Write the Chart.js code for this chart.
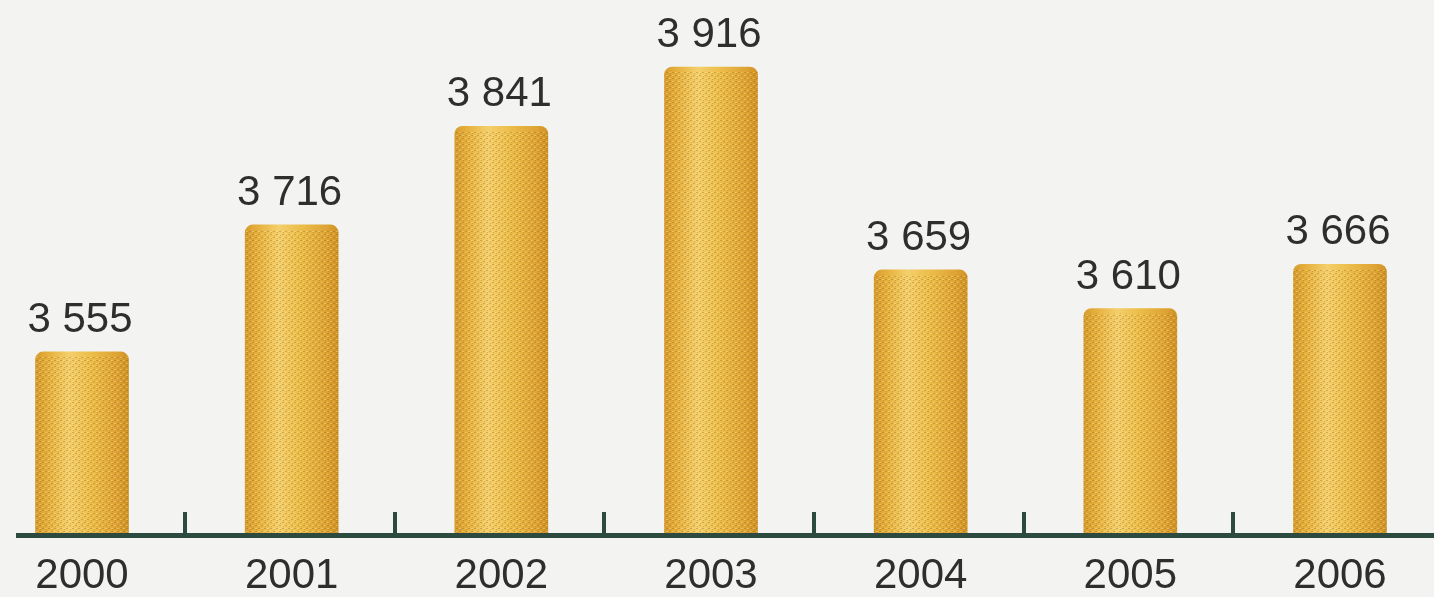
<!DOCTYPE html>
<html>
<head>
<meta charset="utf-8">
<script src="https://cdn.jsdelivr.net/npm/chart.js@4/dist/chart.umd.min.js"></script>
<style>
  html, body { margin: 0; padding: 0; background: #f3f3f1; overflow: hidden; }
  #frame { width: 1434px; height: 597px; overflow: hidden; }
  #wrap { width: 1434px; height: 617px; position: relative; }
</style>
</head>
<body>
<div id="frame"><div id="wrap"><canvas id="c"></canvas></div></div>
<script>
// Annual totals, 2000–2006
const years = ['2000', '2001', '2002', '2003', '2004', '2005', '2006'];
const totals = [3555, 3716, 3841, 3916, 3659, 3610, 3666];
const yRange = [3323, 4001];

// "3 555" style with a space as thousands separator
const fmt = v => String(v).replace(/\B(?=(\d{3})+(?!\d))/g, ' ');

const FONT = '"Liberation Sans", Arial, sans-serif';
const INK = '#2e2e2e';
const AXIS = '#2c4a3f';
const BAR_W = 93;

// golden column shading, built per bar from the x scale
function barFill(ctx) {
  const chart = ctx.chart;
  const xs = chart.scales.x;
  if (!xs || !chart.chartArea || ctx.dataIndex === undefined) return '#e6b445';
  const cx = xs.getPixelForValue(ctx.dataIndex);
  const half = BAR_W / 2;
  const g = chart.ctx.createLinearGradient(cx - half, 0, cx + half, 0);
  g.addColorStop(0.00, '#d69c2e');
  g.addColorStop(0.14, '#e6b13e');
  g.addColorStop(0.36, '#f4cf6c');
  g.addColorStop(0.60, '#ecbd4a');
  g.addColorStop(0.88, '#dea334');
  g.addColorStop(1.00, '#cf9226');
  return g;
}

// coarse speckled grain laid over the columns
function grainPattern(ctx) {
  const p = document.createElement('canvas');
  p.width = 6; p.height = 6;
  const c = p.getContext('2d');
  c.fillStyle = 'rgba(140,85,10,0.30)';
  c.fillRect(0, 0, 2, 1);
  c.fillRect(3, 3, 2, 1);
  c.fillRect(1, 4, 1, 1);
  c.fillRect(4, 1, 1, 1);
  c.fillStyle = 'rgba(255,240,170,0.35)';
  c.fillRect(3, 0, 2, 1);
  c.fillRect(0, 3, 2, 1);
  return ctx.createPattern(p, 'repeat');
}

const columnDecor = {
  id: 'columnDecor',
  afterDatasetsDraw(chart) {
    const { ctx, chartArea, scales } = chart;
    const meta = chart.getDatasetMeta(0);
    const base = chartArea.bottom;
    ctx.save();

    // grain over each column
    const pat = grainPattern(ctx);
    meta.data.forEach(bar => {
      const { x, y, width } = bar.getProps(['x', 'y', 'width'], true);
      ctx.fillStyle = pat;
      ctx.fillRect(x - width / 2, y + 5, width, base - y - 5);
    });

    // baseline
    ctx.fillStyle = AXIS;
    ctx.fillRect(16, base - 2, chart.width - 16, 5);

    // short ticks between categories, rising from the baseline
    for (let i = 0; i < years.length - 1; i++) {
      const mx = (scales.x.getPixelForValue(i) + scales.x.getPixelForValue(i + 1)) / 2;
      ctx.fillRect(Math.round(mx - 4), base - 23, 4, 23);
    }

    // value labels above the columns
    ctx.fillStyle = INK;
    ctx.font = '42px ' + FONT;
    ctx.textAlign = 'center';
    ctx.textBaseline = 'alphabetic';
    meta.data.forEach((bar, i) => {
      const { x, y } = bar.getProps(['x', 'y'], true);
      ctx.fillText(fmt(totals[i]), x - 2, y - 20);
    });
    ctx.restore();
  }
};

new Chart(document.getElementById('c'), {
  type: 'bar',
  data: {
    labels: years,
    datasets: [{
      data: totals,
      backgroundColor: barFill,
      borderWidth: 0,
      borderRadius: { topLeft: 8, topRight: 8, bottomLeft: 0, bottomRight: 0 },
      borderSkipped: 'bottom',
      barThickness: BAR_W,
      clip: { left: 60, right: 60, top: 60, bottom: 0 }
    }]
  },
  options: {
    responsive: true,
    maintainAspectRatio: false,
    animation: false,
    layout: { padding: { left: 82, right: 94, top: 0, bottom: 0 } },
    plugins: { legend: { display: false }, tooltip: { enabled: false } },
    scales: {
      x: {
        offset: false,
        grid: { display: false, drawTicks: false },
        border: { display: false },
        ticks: {
          color: INK,
          padding: 20,
          maxRotation: 0,
          autoSkip: false,
          font: { family: FONT, size: 42, lineHeight: 1.0 }
        }
      },
      y: {
        display: false,
        min: yRange[0],
        max: yRange[1]
      }
    }
  },
  plugins: [columnDecor]
});
</script>
</body>
</html>
